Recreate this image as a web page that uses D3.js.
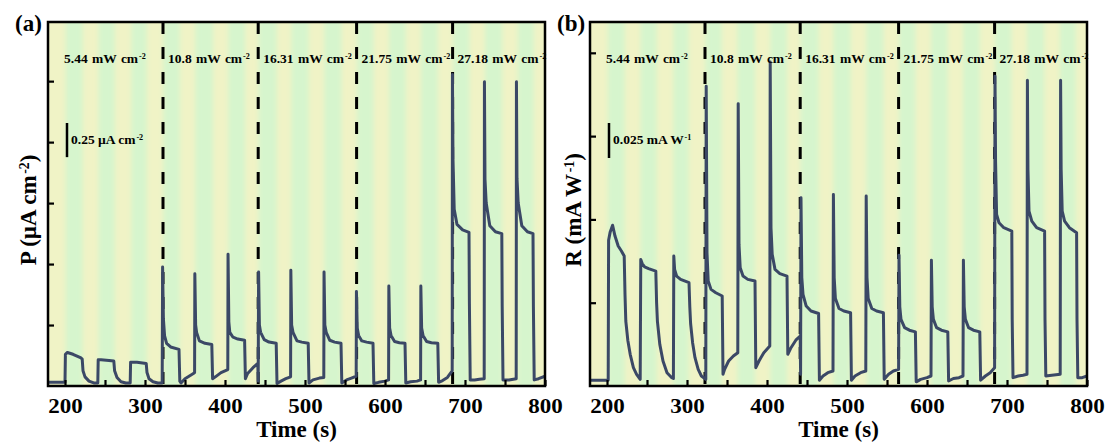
<!DOCTYPE html>
<html>
<head>
<meta charset="utf-8">
<script src="https://cdn.jsdelivr.net/npm/d3@7"></script>
<style>
  body { margin: 0; background: #fff; }
  svg text { font-family: "Liberation Serif", "Times New Roman", serif; font-weight: bold; fill: #000; }
</style>
</head>
<body>
<svg id="fig" width="1108" height="443"></svg>
<script>
// ---- data ----
const timeDomain = [178.75, 800];
const xTicks = [200, 250, 300, 350, 400, 450, 500, 550, 600, 650, 700, 750, 800];
const xTickLabels = [200, 300, 400, 500, 600, 700, 800];

// light on / off times (s)
const pulseOn  = [201, 242, 283, 323, 363, 404, 442, 483, 524, 565, 605, 645, 685, 725, 766];
const pulseOff = [222, 262, 302, 343.5, 385, 425, 464.5, 504.5, 545.5, 585.5, 626, 666, 705.5, 746.5, 786];

// intensity steps (dashed lines at the start of each, except the first)
const sectionStart = [178.75, 322.5, 441.5, 564.5, 684.5];
const sectionLabels = ["5.44", "10.8", "16.31", "21.75", "27.18"];

// photocurrent density P (one unit = one y tick)
const seriesP = [
  [179, 0.06], [200, 0.06],
  [200.5, 0.52], [203, 0.55], [210, 0.52], [220, 0.46], [221.5, 0.44], [222.5, 0.25], [225, 0.15], [230, 0.08], [236, 0.05], [241, 0.05],
  [241.5, 0.43], [245, 0.43], [255, 0.42], [261, 0.41], [262, 0.25], [265, 0.14], [270, 0.07], [276, 0.05], [281.5, 0.05],
  [282, 0.39], [290, 0.39], [301.5, 0.37], [302.5, 0.22], [305, 0.12], [310, 0.07], [316, 0.05], [321.5, 0.05],
  [322, 1.95], [323, 1.1], [324.5, 0.82], [327, 0.7], [332, 0.64], [342.5, 0.6], [343.5, 0.08], [345, 0.05], [350, 0.12], [360, 0.2], [362, 0.22],
  [362.3, 1.84], [363.3, 1.0], [364.5, 0.88], [368, 0.74], [375, 0.7], [383.5, 0.68], [384.5, 0.12], [388, 0.15], [395, 0.22], [403.5, 0.27],
  [403.8, 2.16], [404.8, 1.05], [406, 0.88], [410, 0.8], [416, 0.77], [424.5, 0.75], [425.5, 0.12], [428, 0.2], [435, 0.3], [441, 0.37],
  [441.5, 0.08], [442, 1.87], [443, 1.0], [444.5, 0.88], [449, 0.76], [455, 0.72], [464, 0.7], [465, 0.04], [470, 0.08], [476, 0.12], [482, 0.15],
  [482.3, 1.9], [483.3, 1.0], [485, 0.88], [490, 0.74], [496, 0.72], [504, 0.7], [505, 0.05], [510, 0.1], [518, 0.13], [523.5, 0.14],
  [523.8, 1.87], [524.8, 1.0], [526.5, 0.88], [531, 0.75], [537, 0.72], [545, 0.7], [546, 0.05], [552, 0.1], [558, 0.13], [564, 0.16],
  [564.3, 1.55], [565.3, 0.95], [567, 0.83], [571, 0.74], [577, 0.72], [585, 0.7], [586, 0.04], [592, 0.06], [600, 0.08], [604.5, 0.1],
  [604.8, 1.64], [605.8, 0.95], [607.5, 0.83], [612, 0.73], [618, 0.71], [625, 0.7], [626, 0.05], [632, 0.07], [640, 0.08], [644.5, 0.1],
  [644.8, 1.64], [645.8, 0.95], [647.5, 0.83], [652, 0.73], [658, 0.71], [666, 0.7], [667, 0.06], [672, 0.09], [678, 0.14], [684, 0.25],
  [684.3, 5.11], [685, 3.72], [686.5, 2.9], [690, 2.65], [697, 2.56], [705, 2.52], [705.5, 1.35], [706.5, 0.1], [712, 0.1], [718, 0.11], [724, 0.12],
  [724.3, 4.99], [725, 3.39], [726.5, 3.0], [731, 2.63], [738, 2.53], [746, 2.5], [746.5, 1.3], [747.5, 0.1], [755, 0.1], [764, 0.12],
  [764.3, 4.99], [765, 3.4], [766.5, 3.0], [771, 2.63], [778, 2.53], [785, 2.5], [785.5, 1.3], [786.5, 0.1], [792, 0.12], [800, 0.16]
];

// responsivity R (one unit = one y tick)
const seriesR = [
  [179, 0.07], [201.5, 0.07],
  [202, 1.75], [204, 1.85], [207, 1.93], [210, 1.8], [214, 1.68], [218, 1.62], [221.5, 1.56], [222.5, 1.1], [223.5, 0.78], [226, 0.55], [229, 0.38], [233, 0.22], [237, 0.14], [241.5, 0.08],
  [242.2, 1.52], [244, 1.47], [247, 1.43], [252, 1.41], [261, 1.38], [262, 1.0], [263, 0.78], [266, 0.5], [270, 0.3], [275, 0.16], [281, 0.1], [283, 0.09],
  [283.5, 1.56], [284.5, 1.4], [287, 1.32], [292, 1.28], [302.5, 1.24], [303.5, 0.95], [304.5, 0.75], [307, 0.52], [310, 0.34], [314, 0.2], [318, 0.12], [323.5, 0.08],
  [324, 3.6], [325, 1.6], [326.5, 1.26], [330, 1.16], [336, 1.12], [344, 1.08], [345, 0.14], [347, 0.2], [352, 0.3], [358, 0.36], [363.5, 0.4],
  [364, 3.39], [365, 1.7], [366.5, 1.42], [370, 1.32], [376, 1.28], [385, 1.26], [386, 0.22], [390, 0.3], [396, 0.4], [403.5, 0.48],
  [404, 3.89], [405, 1.9], [406.5, 1.58], [410, 1.4], [416, 1.35], [425, 1.32], [426, 0.38], [430, 0.46], [436, 0.55], [441.5, 0.6],
  [442, 0.14], [442.5, 2.26], [443.5, 1.3], [445, 1.1], [449, 0.96], [455, 0.9], [464.5, 0.87], [465.5, 0.07], [470, 0.12], [476, 0.16], [482.5, 0.18],
  [483, 2.3], [484, 1.3], [485.5, 1.05], [490, 0.93], [496, 0.9], [504.5, 0.88], [505.5, 0.07], [510, 0.12], [517, 0.16], [523.5, 0.18],
  [524, 2.28], [525, 1.3], [526.5, 1.05], [531, 0.93], [537, 0.9], [545.5, 0.88], [546.5, 0.08], [552, 0.14], [558, 0.18], [564.5, 0.2],
  [565, 1.57], [566, 0.95], [567.5, 0.8], [572, 0.7], [578, 0.67], [585.5, 0.65], [586.5, 0.05], [592, 0.08], [600, 0.1], [605, 0.12],
  [605.5, 1.51], [606.5, 0.95], [608, 0.8], [612, 0.7], [618, 0.67], [626, 0.65], [627, 0.06], [633, 0.09], [640, 0.1], [645, 0.12],
  [645.5, 1.51], [646.5, 0.95], [648, 0.8], [652, 0.7], [658, 0.67], [666, 0.65], [667, 0.07], [673, 0.12], [679, 0.16], [684.5, 0.22],
  [685, 3.72], [685.7, 2.7], [687, 2.06], [690, 1.96], [696, 1.9], [706, 1.86], [706.5, 0.8], [707.5, 0.1], [714, 0.12], [720, 0.13], [725, 0.14],
  [725.5, 3.67], [726.2, 2.6], [727.5, 2.1], [731, 1.98], [737, 1.9], [747, 1.86], [747.5, 0.8], [748.5, 0.12], [756, 0.13], [766.5, 0.14],
  [767, 3.67], [767.7, 2.6], [769, 2.1], [772, 1.98], [778, 1.9], [787, 1.84], [787.5, 0.8], [788.5, 0.1], [794, 0.1], [800, 0.12]
];

// y extents (in tick units) and scale-bar lengths
const yMaxP = 5.97, yTicksP = [1, 2, 3, 4, 5], barP = 0.56;
const yMaxR = 4.37, yTicksR = [1, 2, 3, 4], barR = 0.42;

// ---- drawing ----
const plotTop = 22, plotW = 497, plotH = 364;
const yellow = "#f0f3c6", green = "#d6f5cd", lineColor = "#3b4866";

const svg = d3.select("#fig");
const defs = svg.append("defs");
defs.append("filter").attr("id", "soft").attr("x", "-20%").attr("width", "140%")
  .append("feGaussianBlur").attr("stdDeviation", "2.5 0");

// text with one superscript piece
function supText(sel, before, sup, after) {
  sel.append("tspan").text(before);
  sel.append("tspan").attr("font-size", "0.6em").attr("dy", "-0.5em").attr("dx", "0.12em").text(sup);
  sel.append("tspan").attr("dy", "0.3em").text(after || "");
}

const panels = [
  { key: "a", left: 48, series: seriesP, yMax: yMaxP, yTicks: yTicksP, bar: barP,
    ylab: ["P (\u00b5A cm", "-2", ")"], barLab: ["0.25 \u00b5A cm", "-2"] },
  { key: "b", left: 590, series: seriesR, yMax: yMaxR, yTicks: yTicksR, bar: barR,
    ylab: ["R (mA W", "-1", ")"], barLab: ["0.025 mA W", "-1"] }
];

panels.forEach(p => {
  const x = d3.scaleLinear().domain(timeDomain).range([0, plotW]);
  const y = d3.scaleLinear().domain([0, p.yMax]).range([plotH, 0]);
  const g = svg.append("g").attr("transform", `translate(${p.left},${plotTop})`);

  defs.append("clipPath").attr("id", "clip" + p.key)
    .append("rect").attr("width", plotW).attr("height", plotH);

  // stripes: green while the light is on
  const bg = g.append("g").attr("clip-path", `url(#clip${p.key})`);
  bg.append("rect").attr("width", plotW).attr("height", plotH).attr("fill", yellow);
  bg.append("g").attr("filter", "url(#soft)")
    .selectAll("rect").data(d3.zip(pulseOn, pulseOff)).join("rect")
    .attr("x", d => x(d[0])).attr("width", d => x(d[1]) - x(d[0]))
    .attr("y", -10).attr("height", plotH + 20).attr("fill", green);

  // dashed separators
  g.selectAll(".sep").data(sectionStart.slice(1)).join("line")
    .attr("class", "sep")
    .attr("x1", d => x(d)).attr("x2", d => x(d))
    .attr("y1", 0).attr("y2", plotH)
    .attr("stroke", "#000").attr("stroke-width", 3).attr("stroke-dasharray", "12,13");

  // curve
  g.append("path").datum(p.series)
    .attr("fill", "none").attr("stroke", lineColor).attr("stroke-width", 3)
    .attr("stroke-linejoin", "round")
    .attr("d", d3.line().x(d => x(d[0])).y(d => y(d[1])));

  // intensity labels
  sectionStart.forEach((s, i) => {
    const t = g.append("text").attr("x", x(s) + (i === 0 ? 16 : 5)).attr("y", 41)
      .attr("font-size", 13.5).attr("word-spacing", 1);
    supText(t, sectionLabels[i] + " mW cm", "-2");
  });

  // scale bar
  g.append("line").attr("x1", 19).attr("x2", 19)
    .attr("y1", 101).attr("y2", 101 + y(0) - y(p.bar))
    .attr("stroke", "#000").attr("stroke-width", 2.5);
  const bt = g.append("text").attr("x", 23).attr("y", 122).attr("font-size", 13.5);
  supText(bt, p.barLab[0], p.barLab[1]);

  // axes
  const xAxis = g.append("g").attr("transform", `translate(0,${plotH})`)
    .call(d3.axisBottom(x).tickValues(xTicks).tickSizeInner(-6).tickSizeOuter(0).tickPadding(13)
      .tickFormat(d => xTickLabels.includes(d) ? d : ""));
  const yAxis = g.append("g")
    .call(d3.axisLeft(y).tickValues(p.yTicks).tickSizeInner(-6).tickSizeOuter(0).tickFormat(""));
  [xAxis, yAxis].forEach(a => {
    a.select(".domain").remove();
    a.selectAll(".tick line").attr("stroke", "#000").attr("stroke-width", 2.2);
  });
  xAxis.selectAll(".tick text").attr("font-size", 20).attr("fill", "#000")
    .attr("transform", "scale(1.15,1)");

  // frame
  g.append("rect").attr("width", plotW).attr("height", plotH)
    .attr("fill", "none").attr("stroke", "#000").attr("stroke-width", 2.5);

  // titles
  g.append("text").attr("x", plotW / 2).attr("y", 415).attr("text-anchor", "middle")
    .attr("font-size", 23).text("Time (s)");
  const yl = g.append("text").attr("transform", `translate(${p.key === "a" ? -12 : -9},${plotH / 2 + 6}) rotate(-90)`)
    .attr("text-anchor", "middle").attr("font-size", 23);
  supText(yl, p.ylab[0], p.ylab[1], p.ylab[2]);

  svg.append("text").attr("x", p.left - 33).attr("y", 31).attr("font-size", 23)
    .text(`(${p.key})`);
});
</script>
</body>
</html>
